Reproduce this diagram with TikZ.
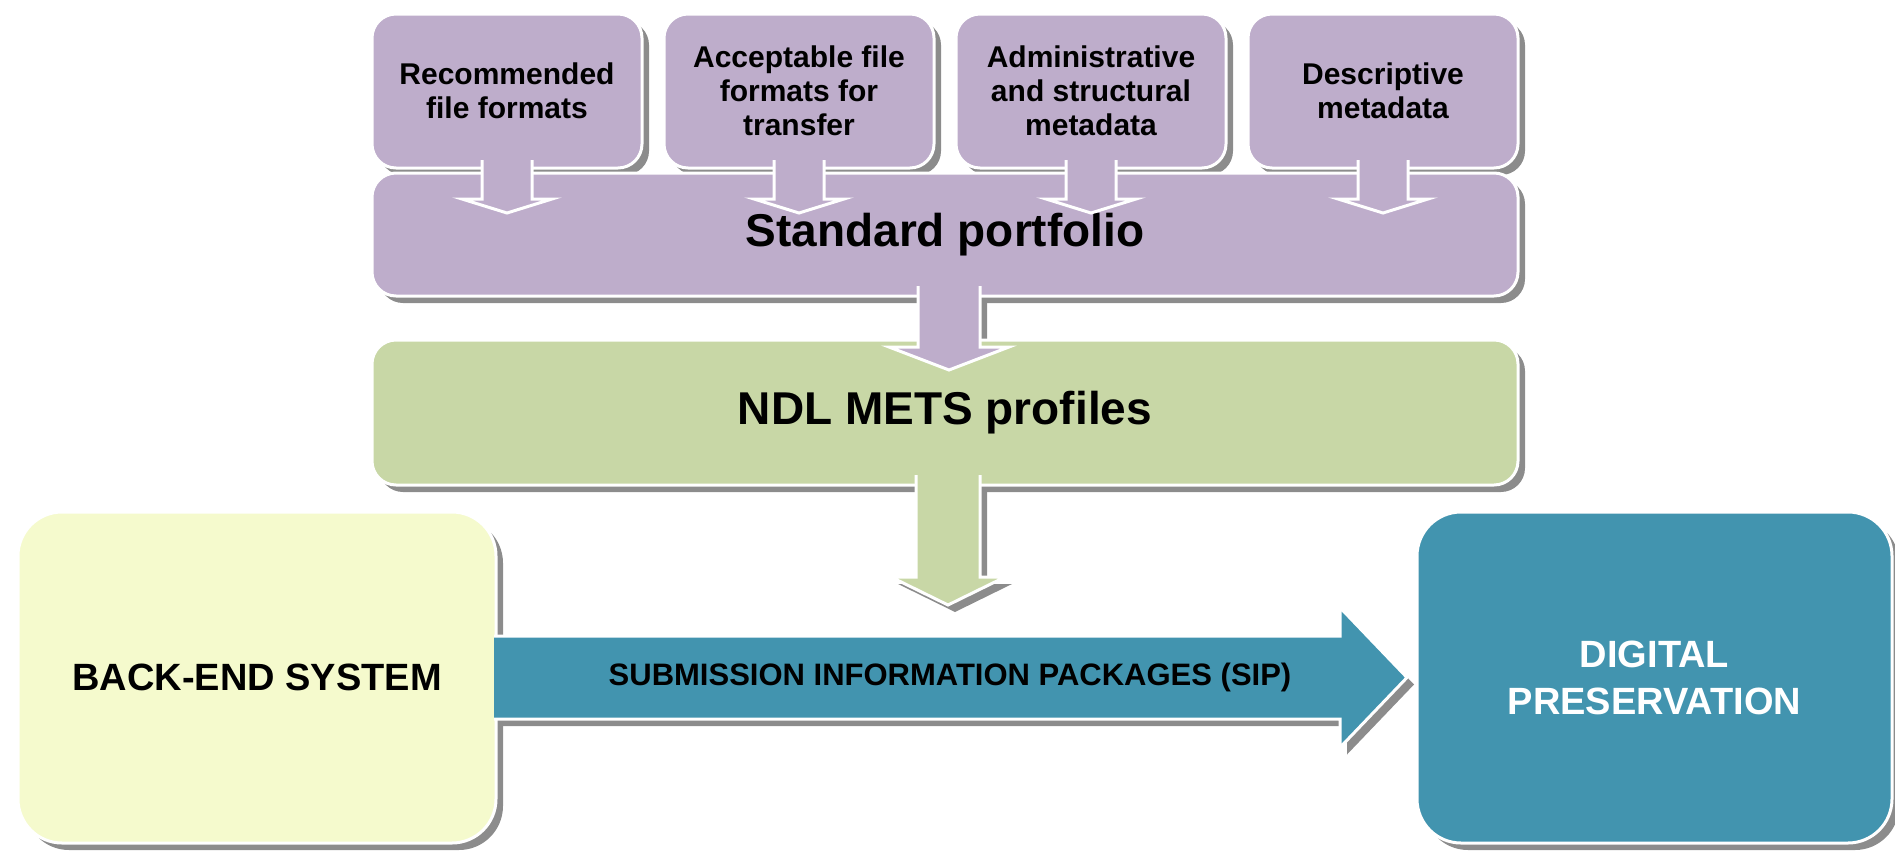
\documentclass[tikz,border=0pt]{standalone}
\usepackage{fontspec}
\setmainfont{Liberation Sans}
\usetikzlibrary{calc}
\pgfdeclarelayer{background}
\pgfsetlayers{background,main}

\definecolor{lav}{HTML}{BEADCB}
\definecolor{sage}{HTML}{C8D7A6}
\definecolor{cream}{HTML}{F5FACD}
\definecolor{sipteal}{HTML}{4294AF}
\definecolor{shade}{HTML}{8C8C8C}

% block arrow pointing down: start (top centre), shaft length, head length, shaft half width, head half width
\newcommand\blockdown[5]{($#1+(-#4,0)$) -- ++(0,#2) -- ++(#4-#5,0) -- ++(#5,#3) -- ++(#5,-#3) -- ++(#4-#5,0) -- ++(0,-#2)}
% block arrow pointing right: start (left centre), shaft length, head length, shaft half height, head half height
\newcommand\blockright[5]{($#1+(0,-#4)$) -- ++(#2,0) -- ++(0,#4-#5) -- ++(#3,#5) -- ++(-#3,#5) -- ++(0,#4-#5) -- ++(-#2,0)}

\tikzset{
  panel/.style={draw=white, line width=3pt, outer sep=0pt, inner sep=0pt, align=center, text=black},
  small/.style={panel, fill=lav, rounded corners=24pt, minimum width=270, minimum height=154,
    font=\fontsize{30}{34}\selectfont\bfseries},
  wide/.style={panel, rounded corners=24pt, minimum width=1146, font=\fontsize{46}{52}\selectfont\bfseries},
  big/.style={panel, rounded corners=44pt, minimum width=478, minimum height=331,
    font=\fontsize{38}{47}\selectfont\bfseries},
  outline/.style={draw=white, line width=3pt, line join=miter},
  shadowfill/.style={fill=shade},
}

\begin{document}
\begin{tikzpicture}[x=1pt, y=-1pt]
\useasboundingbox (0,0) rectangle (1895,854);

% standard portfolio and its feeding sources
\node[wide, fill=lav, minimum height=123] (portfolio) at (945,234.5) {Standard portfolio};
\node[small] (f1) at (507,91) {Recommended\\file formats};
\node[small] (f2) at (799,91) {Acceptable file\\formats for\\transfer};
\node[small] (f3) at (1091,91) {Administrative\\and structural\\metadata};
\node[small] (f4) at (1383,91) {Descriptive\\metadata};

\foreach \n in {f1,f2,f3,f4}{
  \fill[lav] \blockdown{(\n.south)+(0,-8)}{39}{14}{25}{45} -- cycle;
  \draw[outline] \blockdown{(\n.south)+(0,-8)}{39}{14}{25}{45};
}

% METS profiles
\node[wide, fill=sage, minimum height=145] (ndl) at (945,412.5) {NDL METS profiles};

\fill[lav] \blockdown{(portfolio.south)+(4,-10)}{61}{23}{31}{60} -- cycle;
\draw[outline] \blockdown{(portfolio.south)+(4,-10)}{61}{23}{31}{60};

\fill[sage] \blockdown{(ndl.south)+(3,-10)}{102}{28}{32}{57} -- cycle;
\draw[outline] \blockdown{(ndl.south)+(3,-10)}{102}{28}{32}{57};

% back-end, SIP transfer and preservation
\node[big, fill=cream] (backend) at (257,677.5) {BACK-END SYSTEM};
\fill[sipteal] \blockright{(backend.east)+(-2,0)}{846}{67}{41.5}{70} -- cycle;
\draw[outline] \blockright{(backend.east)+(-2,0)}{846}{67}{41.5}{70};
\node[font=\fontsize{31}{36}\selectfont\bfseries] (sip) at (950,677) {SUBMISSION INFORMATION PACKAGES (SIP)};

\node[big, fill=sipteal, text=white, minimum width=475] (dp) at (1654.5,677.5) {DIGITAL\\PRESERVATION};

% drop shadows
\begin{pgfonlayer}{background}
\begin{scope}[transform canvas={shift={(7pt,-7pt)}}]
  \foreach \n in {f1,f2,f3,f4,portfolio,ndl}
    \fill[shadowfill, rounded corners=24pt] (\n.north west) rectangle (\n.south east);
  \foreach \n in {backend,dp}
    \fill[shadowfill, rounded corners=44pt] (\n.north west) rectangle (\n.south east);
  \fill[shadowfill] \blockdown{(portfolio.south)+(4,-10)}{61}{23}{31}{60} -- cycle;
  \fill[shadowfill] \blockdown{(ndl.south)+(3,-10)}{102}{28}{32}{57} -- cycle;
  \fill[shadowfill] \blockright{(backend.east)+(-2,0)}{846}{67}{41.5}{70} -- cycle;
\end{scope}
\end{pgfonlayer}
\end{tikzpicture}
\end{document}
